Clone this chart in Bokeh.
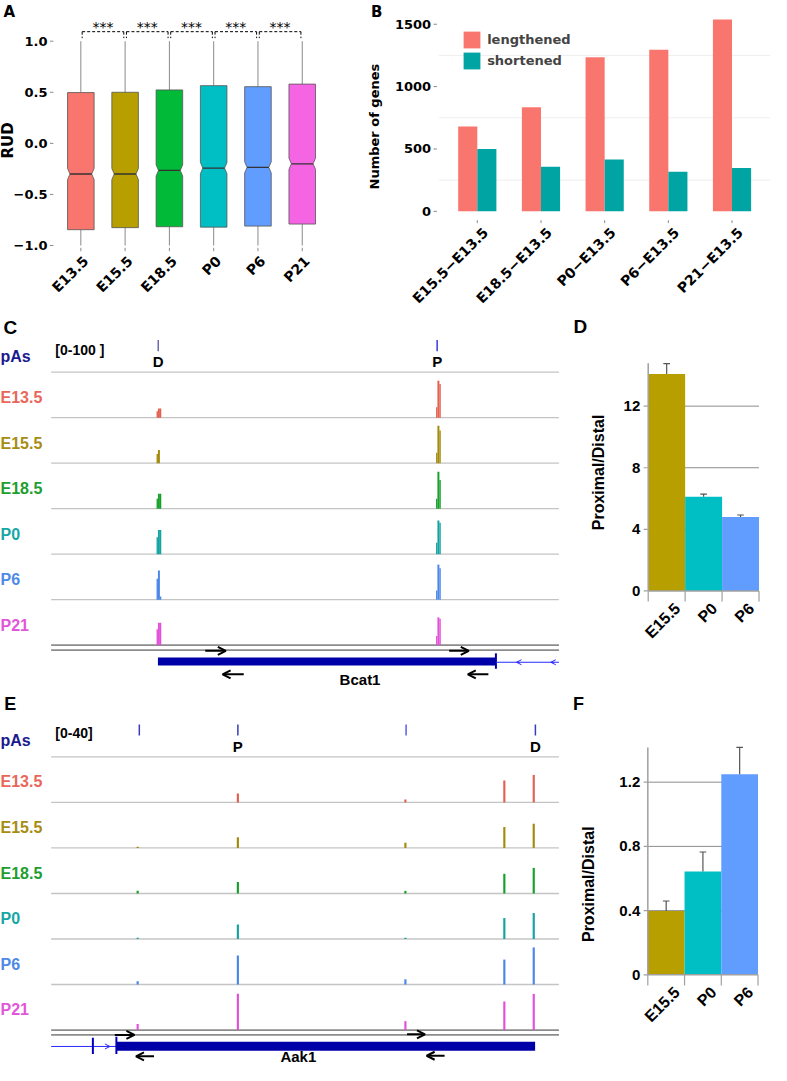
import math
from bokeh.plotting import figure
from bokeh.layouts import column, row
from bokeh.models import Range1d, Arrow, OpenHead, Legend, LegendItem
from bokeh.core.properties import value
from bokeh.embed import file_html
from bokeh.resources import INLINE

FONT = "Liberation Sans"
WIDE = "DejaVu Sans"

# ---------------- data ----------------
stages = ["E13.5", "E15.5", "E18.5", "P0", "P6", "P21"]
stage_colors = ["#F8766D", "#B79F00", "#00BA38", "#00BFC4", "#619CFF", "#F564E3"]
rud_low = [-1.0, -1.0, -1.0, -1.0, -1.0, -1.0]
rud_q1 = [-0.845, -0.825, -0.816, -0.82, -0.81, -0.79]
rud_median = [-0.30, -0.30, -0.265, -0.242, -0.235, -0.20]
rud_q3 = [0.497, 0.50, 0.523, 0.565, 0.555, 0.58]
rud_high = [1.0, 1.0, 1.0, 1.0, 1.0, 1.0]
rud_notch = [0.055, 0.055, 0.055, 0.055, 0.055, 0.055]
rud_ticks = [-1.0, -0.5, 0.0, 0.5, 1.0]
rud_tick_labels = ["\u22121.0", "\u22120.5", "0.0", "0.5", "1.0"]
signif = ["***", "***", "***", "***", "***"]

comparisons = ["E15.5\u2212E13.5", "E18.5\u2212E13.5", "P0\u2212E13.5", "P6\u2212E13.5", "P21\u2212E13.5"]
lengthened = [681, 835, 1235, 1295, 1538]
shortened = [500, 358, 416, 318, 347]
gene_ticks = [0, 500, 1000, 1500]
gene_minor_grid = [250, 750, 1250]

track_names = ["E13.5", "E15.5", "E18.5", "P0", "P6", "P21"]
track_label_colors = ["#e8675b", "#a68d12", "#1e9e2e", "#17a6a6", "#4d8ae8", "#e356d8"]
track_peak_colors = ["#e2604f", "#a48a0c", "#16a02a", "#14a2a2", "#4a86e8", "#e24fd8"]

# Bcat1 track values ([0-100] scale); each pA site drawn as left / peak / right columns
bcat1_distal_left = [14, 20, 22, 37, 46, 35]
bcat1_distal_peak = [20, 29, 33, 53, 64, 49]
bcat1_distal_right = [20, 0, 33, 53, 7, 49]
bcat1_prox_left = [23, 23, 22, 25, 20, 20]
bcat1_prox_peak = [81, 82, 81, 74, 77, 61]
bcat1_prox_right = [74, 72, 63, 69, 69, 58]
bcat1_sites = [110.0, 395.3]          # distal, proximal (track position units)
bcat1_pas = [109.3, 394.0]
bcat1_pas_labels = ["D", "P"]
bcat1_cds = [109.0, 454.0]

# Aak1 track values ([0-40] scale)
aak1_sites = [88.3, 190.6, 361.6, 462.6, 492.6]
aak1_site1 = [0.0, 1.1, 2.3, 1.1, 2.9, 5.2]
aak1_prox = [7.8, 9.5, 10.1, 12.7, 25.4, 31.8]
aak1_site3 = [2.6, 4.6, 2.3, 1.1, 4.6, 7.8]
aak1_site4 = [19.3, 18.4, 17.3, 18.4, 21.9, 25.1]
aak1_dist = [24.2, 21.3, 22.5, 22.8, 32.6, 31.8]
aak1_pas = [90.0, 190.6, 362.3, 494.3]
aak1_pas_labels = ["", "P", "", "D"]
aak1_cds = [66.6, 494.0]

ratio_stages = ["E15.5", "P0", "P6"]
ratio_colors = ["#B79F00", "#00BFC4", "#619CFF"]
bcat1_ratio = [14.08, 6.12, 4.80]
bcat1_err = [0.68, 0.17, 0.13]
bcat1_ticks = [0, 4, 8, 12]
aak1_ratio = [0.397, 0.644, 1.250]
aak1_err = [0.063, 0.121, 0.167]
aak1_ticks = [0, 0.4, 0.8, 1.2]

# ---------------- geometry helpers ----------------
SX = 771 / 787
SY = 1065 / 1081


def page_x(rx):
    return 8 + SX * rx


def page_y(ry):
    return 8 + SY * ry


class Panel:
    """A figure whose frame fills its whole box; xmap/ymap map reference pixels to data."""

    def __init__(self, box, xmap, ymap):
        L, T, W, H = box
        self.box = box
        self.xmap, self.ymap = xmap, ymap
        rx0, rx1 = (L - 8) / SX, (L + W - 8) / SX
        ry0, ry1 = (T - 8) / SY, (T + H - 8) / SY
        p = figure(width=W, height=H,
                   x_range=Range1d(xmap(rx0), xmap(rx1)),
                   y_range=Range1d(ymap(ry1), ymap(ry0)),
                   x_axis_type=None, y_axis_type=None,
                   min_border_left=0, min_border_right=0, min_border_top=0, min_border_bottom=0,
                   output_backend="svg", toolbar_location=None, tools="")
        p.outline_line_color = None
        p.background_fill_color = "white"
        p.border_fill_color = "white"
        self.fig = p

    def X(self, rx):
        return self.xmap(rx)

    def Y(self, ry):
        return self.ymap(ry)

    def dX(self, npx):
        return self.xmap(npx) - self.xmap(0)

    def text(self, xs, ys, texts, size, color="black", bold=True, angle=0.0,
             align="center", baseline="middle", font=FONT):
        self.fig.text(x=xs, y=ys, text=texts, text_font=value(font),
                      text_font_size=f"{size}px",
                      text_font_style="bold" if bold else "normal",
                      text_color=color, angle=angle, text_align=align, text_baseline=baseline)

    def label(self, rx, ry, text, size, **kw):
        self.text([self.X(rx)], [self.Y(ry)], [text], size, **kw)


TICK = "#8a8a8a"
ROW1_H = 305
ROW2_T = 8 + ROW1_H
ROW2_H = 698 - ROW2_T

# ---------------- Panel A ----------------
A = Panel((8, 8, 360, ROW1_H), lambda rx: 1 + (rx - 82) / 45.2, lambda ry: (145 - ry) / 103.7)
pa = A.fig
pos = [i + 1 for i in range(len(stages))]
HW, IND = 0.3, 0.055
bx, by = [], []
for x, q1, md, q3, n in zip(pos, rud_q1, rud_median, rud_q3, rud_notch):
    bx.append([x - HW, x + HW, x + HW, x + HW - IND, x + HW, x + HW, x - HW, x - HW, x - HW + IND, x - HW])
    by.append([q1, q1, md - n, md, md + n, q3, q3, md + n, md, md - n])
pa.segment(x0=pos, y0=rud_q3, x1=pos, y1=rud_high, line_color="#8a8a8a", line_width=1)
pa.segment(x0=pos, y0=rud_q1, x1=pos, y1=rud_low, line_color="#8a8a8a", line_width=1)
pa.patches(bx, by, fill_color=stage_colors, line_color="#555555", line_width=0.8)
pa.segment(x0=[x - HW + IND for x in pos], y0=rud_median, x1=[x + HW - IND for x in pos],
           y1=rud_median, line_color="#333333", line_width=1.3)
BR_Y, BR_LEG = 1.093, 1.03
bl, br = [p + 0.03 for p in pos[:-1]], [p - 0.03 for p in pos[1:]]
pa.segment(x0=bl, y0=[BR_Y] * 5, x1=br, y1=[BR_Y] * 5, line_color="black", line_dash="3 2", line_width=1)
pa.segment(x0=bl + br, y0=[BR_Y] * 10, x1=bl + br, y1=[BR_LEG] * 10, line_color="black",
           line_dash="3 2", line_width=1)
A.text([(a + b) / 2 for a, b in zip(bl, br)], [1.135] * 5, signif, 14, bold=False,
       baseline="alphabetic", font=WIDE)
# axes
nt = len(rud_ticks)
pa.segment(x0=[A.X(50.5)] * nt, y0=rud_ticks, x1=[A.X(54)] * nt, y1=rud_ticks, line_color=TICK, line_width=1)
A.text([A.X(48)] * nt, rud_ticks, rud_tick_labels, 13, align="right", font=WIDE)
pa.segment(x0=pos, y0=[A.Y(251)] * 6, x1=pos, y1=[A.Y(254.5)] * 6, line_color=TICK, line_width=1)
A.text([p + A.dX(5) for p in pos], [A.Y(262)] * 6, stages, 14, angle=math.pi / 4, align="right", font=WIDE)
A.label(9, 12, "A", 15, font=WIDE)
A.label(8, 142, "RUD", 15, angle=math.pi / 2, font=WIDE)

# ---------------- Panel B ----------------
B = Panel((368, 8, 411, ROW1_H), lambda rx: 1 + (rx - 486.7) / 65.0, lambda ry: (214 - ry) / 0.1266)
pb = B.fig
gpos = [i + 1 for i in range(len(comparisons))]
ng = len(gene_minor_grid)
pb.segment(x0=[B.X(447.7)] * ng, y0=gene_minor_grid, x1=[B.X(785.7)] * ng, y1=gene_minor_grid,
           line_color="#eeeeee", line_width=1)
r_len = pb.vbar(x=[g - 0.15 for g in gpos], width=0.3, top=lengthened, bottom=0,
                fill_color="#F8766D", line_color=None)
r_sho = pb.vbar(x=[g + 0.15 for g in gpos], width=0.3, top=shortened, bottom=0,
                fill_color="#00A5A3", line_color=None)
nb = len(gene_ticks)
pb.segment(x0=[B.X(442)] * nb, y0=gene_ticks, x1=[B.X(445.5)] * nb, y1=gene_ticks, line_color=TICK, line_width=1)
B.text([B.X(439.5)] * nb, gene_ticks, [str(t) for t in gene_ticks], 13, align="right", font=WIDE)
pb.segment(x0=gpos, y0=[B.Y(223)] * 5, x1=gpos, y1=[B.Y(226)] * 5, line_color=TICK, line_width=1)
B.text([g + B.dX(8.5) for g in gpos], [B.Y(233)] * 5, comparisons, 14, angle=math.pi / 4,
       align="right", font=WIDE)
leg = Legend(items=[LegendItem(label="lengthened", renderers=[r_len]),
                    LegendItem(label="shortened", renderers=[r_sho])],
             location=(page_x(470.7) - 368, (8 + ROW1_H) - page_y(72)),
             glyph_width=21, glyph_height=21, label_height=21, label_width=60,
             spacing=0, padding=0, margin=0, label_standoff=5,
             label_text_font=WIDE, label_text_font_size="13px", label_text_font_style="bold",
             border_line_alpha=0, background_fill_alpha=0)
pb.add_layout(leg)
B.label(384, 12, "B", 15, font=WIDE)
B.label(382, 128, "Number of genes", 13, angle=math.pi / 2, font=WIDE)

# ---------------- Panels C and E (tracks) ----------------
TRACK_END = 518.3
C = Panel((8, ROW2_T, 563, ROW2_H), lambda rx: rx - 51.7, lambda ry: (654.3 - ry) / 46.17)
pc = C.fig
E = Panel((8, 698, 563, 375), lambda rx: rx - 51.7, lambda ry: (1045 - ry) / 46.2)
pe = E.fig


def track_frame(P, lab_dy):
    p = P.fig
    ys = [1, 2, 3, 4, 5, 6]
    p.segment(x0=[0] * 6, y0=ys, x1=[TRACK_END] * 6, y1=ys, line_color="#c4c4c4", line_width=1.3)
    p.segment(x0=[0, 0], y0=[0, -0.108], x1=[TRACK_END] * 2, y1=[0, -0.108],
              line_color="#8c8c8c", line_width=1.8)
    P.text([P.X(0)] * 6, [5 - k + lab_dy for k in range(6)], track_names, 16,
           color=track_label_colors, align="left")


SUB = [(-2.4, -1.0), (-1.0, 1.0), (1.0, 2.4)]
track_frame(C, 0.44)
ql, qr, qb, qt, qc = [], [], [], [], []
for k in range(6):
    groups = [(bcat1_sites[0], (bcat1_distal_left[k], bcat1_distal_peak[k], bcat1_distal_right[k])),
              (bcat1_sites[1], (bcat1_prox_left[k], bcat1_prox_peak[k], bcat1_prox_right[k]))]
    for site, vals in groups:
        for (o0, o1), v in zip(SUB, vals):
            if v <= 0:
                continue
            ql.append(site + o0); qr.append(site + o1)
            qb.append(5 - k); qt.append(5 - k + v / 100.0); qc.append(track_peak_colors[k])
pc.quad(left=ql, right=qr, bottom=qb, top=qt, fill_color=qc, line_color=None)
pc.segment(x0=bcat1_pas, y0=[6.46] * 2, x1=bcat1_pas, y1=[6.71] * 2,
           line_color=["#6a6aa8", "#3b3bdd"], line_width=1.5)
C.text(bcat1_pas, [6.23] * 2, bcat1_pas_labels, 15)
C.label(0, 361, "pAs", 16, color="#1a1a8e", align="left")
C.label(56, 355, "[0-100 ]", 14, align="left")
C.label(10, 332, "C", 19)
GY = -0.36
pc.quad(left=[bcat1_cds[0]], right=[bcat1_cds[1]], bottom=[GY - 0.09], top=[GY + 0.09],
        fill_color="#0000a8", line_color=None)
pc.segment(x0=[bcat1_cds[1]], y0=[-0.18], x1=[bcat1_cds[1]], y1=[-0.52], line_color="#0000a8", line_width=2)
pc.segment(x0=[bcat1_cds[1]], y0=[-0.377], x1=[TRACK_END], y1=[-0.377], line_color="#2a2aff", line_width=1)
for xh in (475.0, 510.0):
    pc.add_layout(Arrow(end=OpenHead(size=5, line_color="#2a2aff", line_width=1),
                        x_start=xh + 3, y_start=-0.377, x_end=xh, y_end=-0.377,
                        line_color="#2a2aff", line_width=1))
for (x0, x1, y) in ((157.3, 178.3, -0.125), (406.3, 426.3, -0.125),
                    (196.6, 175.0, -0.643), (446.3, 425.3, -0.643)):
    pc.add_layout(Arrow(end=OpenHead(size=8, line_color="black", line_width=2),
                        x_start=x0, y_start=y, x_end=x1, y_end=y, line_color="black", line_width=2))
C.label(367, 689, "Bcat1", 15)

track_frame(E, 0.45)
el, er, eb, et, ec = [], [], [], [], []
for k in range(6):
    vals = [aak1_site1[k], aak1_prox[k], aak1_site3[k], aak1_site4[k], aak1_dist[k]]
    for site, v in zip(aak1_sites, vals):
        if v <= 0:
            continue
        el.append(site - 1.1); er.append(site + 1.1)
        eb.append(5 - k); et.append(5 - k + v / 40.0); ec.append(track_peak_colors[k])
pe.quad(left=el, right=er, bottom=eb, top=et, fill_color=ec, line_color=None)
pe.segment(x0=aak1_pas, y0=[6.47] * 4, x1=aak1_pas, y1=[6.71] * 4,
           line_color=["#3b3bbb", "#3b3bbb", "#5b5bee", "#3b3bbb"], line_width=1.5)
E.text(aak1_pas, [6.24] * 4, aak1_pas_labels, 15)
E.label(0, 751, "pAs", 16, color="#1a1a8e", align="left")
E.label(56, 744, "[0-40]", 14, align="left")
E.label(10, 714, "E", 18)
EGY = -0.355
pe.segment(x0=[0], y0=[-0.361], x1=[aak1_cds[0]], y1=[-0.361], line_color="#2a2aff", line_width=1)
pe.segment(x0=[42.6, aak1_cds[0]], y0=[-0.167, -0.145], x1=[42.6, aak1_cds[0]], y1=[-0.526, -0.526],
           line_color="#0000c0", line_width=2)
pe.add_layout(Arrow(end=OpenHead(size=5, line_color="#2a2aff", line_width=1),
                    x_start=57.0, y_start=-0.361, x_end=60.0, y_end=-0.361,
                    line_color="#2a2aff", line_width=1))
pe.quad(left=[aak1_cds[0]], right=[aak1_cds[1]], bottom=[EGY - 0.1], top=[EGY + 0.1],
        fill_color="#0000a8", line_color=None)
for (x0, x1, y) in ((65.0, 85.0, -0.108), (363.3, 381.6, -0.095),
                    (105.0, 86.6, -0.578), (401.6, 383.3, -0.565)):
    pe.add_layout(Arrow(end=OpenHead(size=8, line_color="black", line_width=2),
                        x_start=x0, y_start=y, x_end=x1, y_end=y, line_color="black", line_width=2))
E.label(304, 1072, "Aak1", 15)


# ---------------- Panels D and F ----------------
def ratio_panel(box, xmap, ymap, vals, errs, ticks, axis_top_ref, axis_ref):
    P = Panel(box, xmap, ymap)
    p = P.fig
    xs = [1, 2, 3]
    grid = [t for t in ticks if t > 0]
    p.segment(x0=[0.5] * len(grid), y0=grid, x1=[3.5] * len(grid), y1=grid,
              line_color="#8c8c8c", line_width=1)
    p.vbar(x=xs, width=1.0, top=vals, bottom=0, fill_color=ratio_colors, line_color=None)
    tops = [v + e for v, e in zip(vals, errs)]
    p.segment(x0=xs, y0=vals, x1=xs, y1=tops, line_color="#555555", line_width=1.2)
    p.segment(x0=[x - 0.09 for x in xs], y0=tops, x1=[x + 0.09 for x in xs], y1=tops,
              line_color="#555555", line_width=1.2)
    AX = "#a0a0a0"
    p.segment(x0=[0.5], y0=[0], x1=[0.5], y1=[P.Y(axis_top_ref)], line_color=AX, line_width=1.5)
    p.segment(x0=[0.5], y0=[0], x1=[3.5], y1=[0], line_color=AX, line_width=1.5)
    n = len(ticks)
    p.segment(x0=[P.X(656.5)] * n, y0=ticks, x1=[P.X(660.7)] * n, y1=ticks, line_color=AX, line_width=1.2)
    P.text([P.X(653)] * n, ticks, [f"{t:g}" for t in ticks], 15, align="right")
    bounds = [0.5, 1.5, 2.5, 3.5]
    p.segment(x0=bounds, y0=[0] * 4, x1=bounds, y1=[P.Y(axis_ref + 10.7)] * 4, line_color=AX, line_width=1.2)
    P.text([x + P.dX(11) for x in xs], [P.Y(axis_ref + 15)] * 3, ratio_stages, 16,
           angle=math.pi / 4, align="right")
    return P


D = ratio_panel((571, ROW2_T, 208, ROW2_H), lambda rx: 1 + (rx - 680) / 37.7, lambda ry: (599.3 - ry) / 15.63,
                bcat1_ratio, bcat1_err, bcat1_ticks, 368.3, 599.3)
D.label(592, 331, "D", 19)
D.label(610, 479, "Proximal/Distal", 16, angle=math.pi / 2)

F = ratio_panel((571, 698, 208, 375), lambda rx: 1 + (rx - 679.5) / 37.5, lambda ry: (989 - ry) / 163.0,
                aak1_ratio, aak1_err, aak1_ticks, 758.3, 989)
F.label(590, 714, "F", 18)
F.label(600, 897, "Proximal/Distal", 16, angle=math.pi / 2)

layout = column(row(A.fig, B.fig), row(C.fig, D.fig), row(E.fig, F.fig))
open("out.html", "w").write(file_html(layout, INLINE, "chart"))
